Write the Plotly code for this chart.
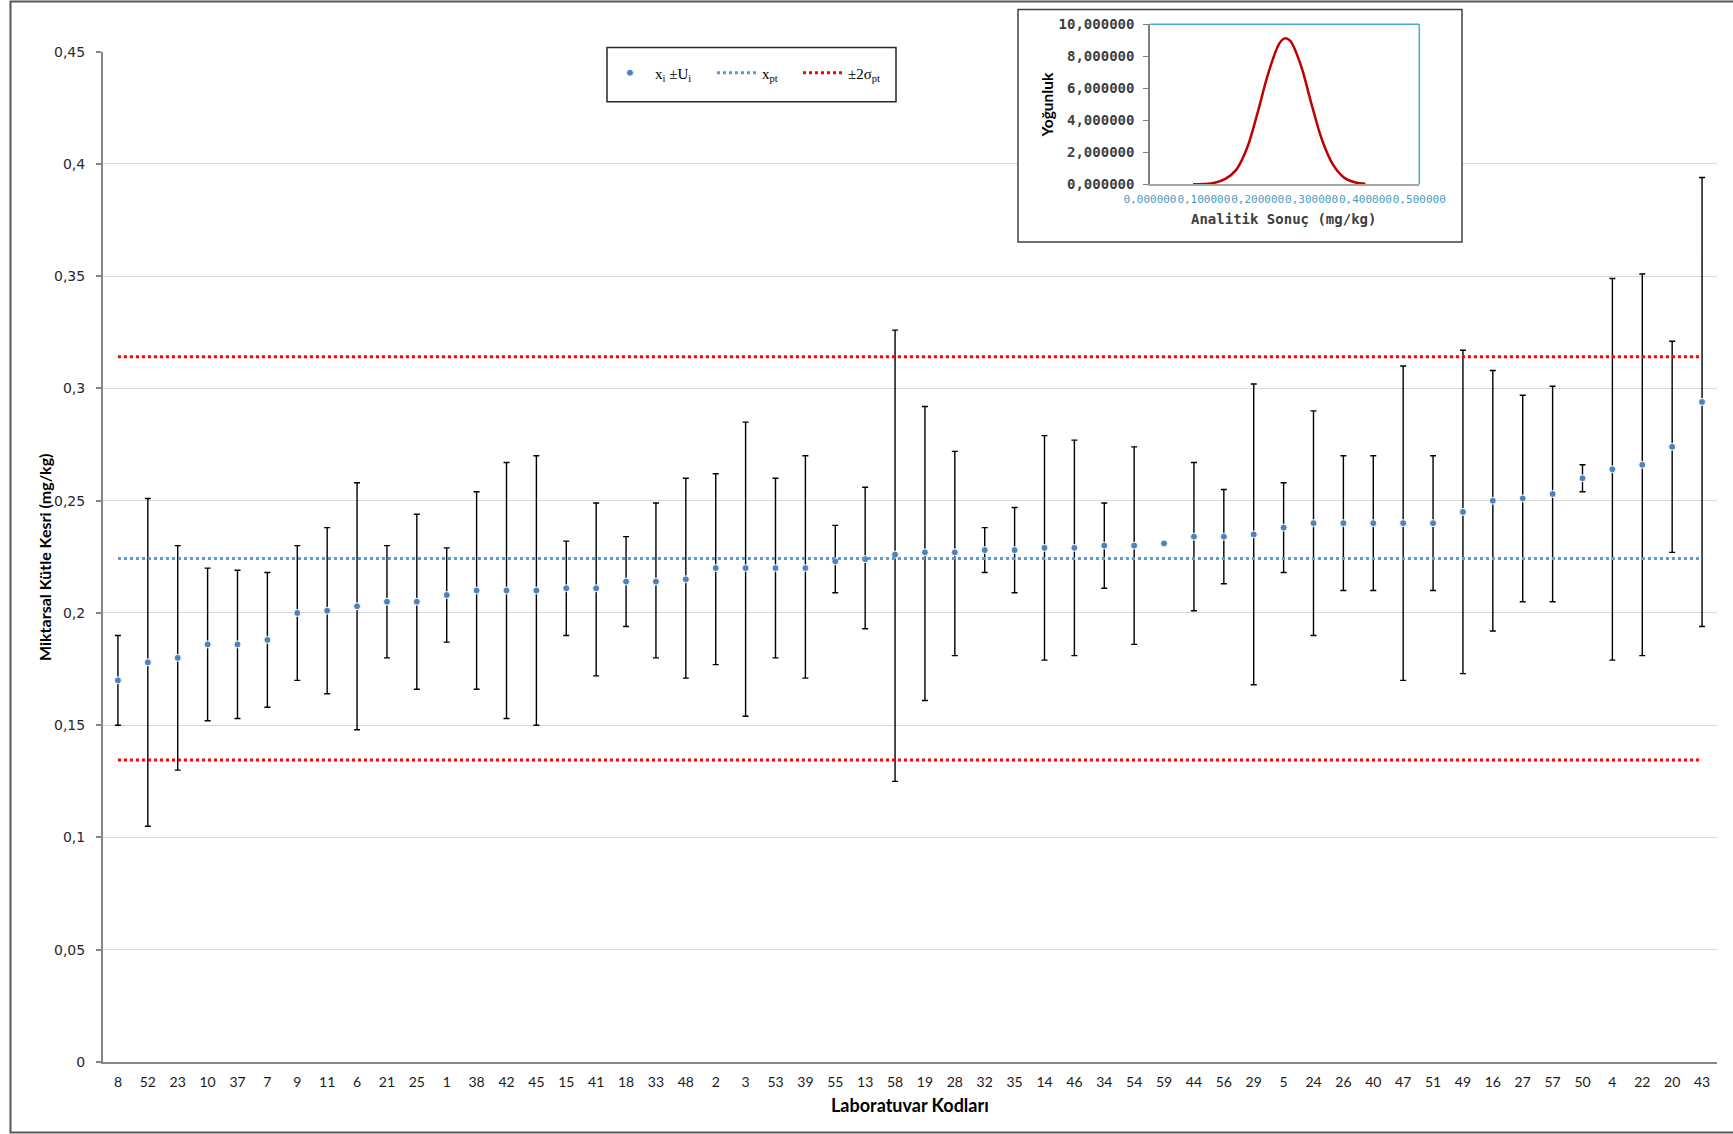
import numpy as np
import plotly.graph_objects as go

# Laboratory codes, ordered by reported result
lab_codes = ["8", "52", "23", "10", "37", "7", "9", "11", "6", "21", "25", "1", "38", "42", "45",
             "15", "41", "18", "33", "48", "2", "3", "53", "39", "55", "13", "58", "19", "28",
             "32", "35", "14", "46", "34", "54", "59", "44", "56", "29", "5", "24", "26", "40", "47",
             "51", "49", "16", "27", "57", "50", "4", "22", "20", "43"]

# Reported mass fractions x_i (mg/kg)
results = [0.170, 0.178, 0.180, 0.186, 0.186, 0.188, 0.200, 0.201, 0.203, 0.205, 0.205, 0.208, 0.210, 0.210, 0.210,
           0.211, 0.211, 0.214, 0.214, 0.215, 0.220, 0.220, 0.220, 0.220, 0.223, 0.224, 0.226, 0.227, 0.227,
           0.228, 0.228, 0.229, 0.229, 0.230, 0.230, 0.231, 0.234, 0.234, 0.235, 0.238, 0.240, 0.240, 0.240, 0.240,
           0.240, 0.245, 0.250, 0.251, 0.253, 0.260, 0.264, 0.266, 0.274, 0.294]

# x_i + U_i and x_i - U_i (lab 59 reported no uncertainty)
upper_bounds = [0.190, 0.251, 0.230, 0.220, 0.219, 0.218, 0.230, 0.238, 0.258, 0.230, 0.244, 0.229, 0.254, 0.267, 0.270,
                0.232, 0.249, 0.234, 0.249, 0.260, 0.262, 0.285, 0.260, 0.270, 0.239, 0.256, 0.326, 0.292, 0.272,
                0.238, 0.247, 0.279, 0.277, 0.249, 0.274, None, 0.267, 0.255, 0.302, 0.258, 0.290, 0.270, 0.270, 0.310,
                0.270, 0.317, 0.308, 0.297, 0.301, 0.266, 0.349, 0.351, 0.321, 0.394]
lower_bounds = [0.150, 0.105, 0.130, 0.152, 0.153, 0.158, 0.170, 0.164, 0.148, 0.180, 0.166, 0.187, 0.166, 0.153, 0.150,
                0.190, 0.172, 0.194, 0.180, 0.171, 0.177, 0.154, 0.180, 0.171, 0.209, 0.193, 0.125, 0.161, 0.181,
                0.218, 0.209, 0.179, 0.181, 0.211, 0.186, None, 0.201, 0.213, 0.168, 0.218, 0.190, 0.210, 0.210, 0.170,
                0.210, 0.173, 0.192, 0.205, 0.205, 0.254, 0.179, 0.181, 0.227, 0.194]

# Assigned value and standard deviation for proficiency assessment
x_pt = 0.2243
sigma_pt = 0.0449

# Main y-axis ticks
y_tick_values = [0, 0.05, 0.10, 0.15, 0.20, 0.25, 0.30, 0.35, 0.40, 0.45]
y_tick_labels = ["0", "0,05", "0,1", "0,15", "0,2", "0,25", "0,3", "0,35", "0,4", "0,45"]

# Inset: density of the analytical result
density_x = [0.08, 0.10, 0.12, 0.14, 0.16, 0.18, 0.20, 0.22, 0.24, 0.25, 0.26, 0.28, 0.30, 0.32, 0.34, 0.36, 0.38, 0.40]
density_y = [0.00, 0.02, 0.10, 0.34, 0.90, 2.25, 4.50, 6.98, 8.79, 9.12, 8.98, 7.44, 5.00, 2.72, 1.21, 0.43, 0.13, 0.03]
inset_x_ticks = [0, 0.1, 0.2, 0.3, 0.4, 0.5]
inset_x_labels = ["0,000000", "0,100000", "0,200000", "0,300000", "0,400000", "0,500000"]
inset_y_ticks = [0, 2, 4, 6, 8, 10]
inset_y_labels = ["0,000000", "2,000000", "4,000000", "6,000000", "8,000000", "10,000000"]

# ---- pixel layout helpers (plot area: x 103..1717, y 0..1062) ----
W, H = 1733, 1134
L, R, B = 103, 1717, 1062


def px(x):
    return (x - L) / (R - L)


def py(y):
    return (B - y) / B


vals = np.array(results, dtype=float)
hi = np.array(upper_bounds, dtype=float)
lo = np.array(lower_bounds, dtype=float)
err_plus = hi - vals
err_minus = vals - lo

fig = go.Figure()

fig.add_trace(go.Scatter(
    x=lab_codes, y=vals, mode="markers",
    name="x<sub>i</sub> ±U<sub>i</sub>", legendwidth=52,
    marker=dict(color="#4F81BD", size=7, line=dict(color="white", width=1)),
    error_y=dict(type="data", symmetric=False, array=err_plus, arrayminus=err_minus,
                 color="black", thickness=1.4, width=3),
    xaxis="x", yaxis="y",
))

fig.add_trace(go.Scatter(
    x=[lab_codes[0], lab_codes[-1]], y=[x_pt, x_pt], mode="lines",
    name="x<sub>pt</sub>", legendwidth=31,
    line=dict(color="#5B9BD5", width=3, dash="dot"),
    xaxis="x", yaxis="y",
))

fig.add_trace(go.Scatter(
    x=[lab_codes[0], lab_codes[-1], None, lab_codes[0], lab_codes[-1]],
    y=[x_pt + 2 * sigma_pt, x_pt + 2 * sigma_pt, None, x_pt - 2 * sigma_pt, x_pt - 2 * sigma_pt],
    mode="lines", connectgaps=False,
    name="±2σ<sub>pt</sub>", legendwidth=40,
    line=dict(color="#FF0000", width=3, dash="dot"),
    xaxis="x", yaxis="y",
))

# empty panel whose white background hides the grid behind the inset
fig.add_trace(go.Scatter(x=[], y=[], xaxis="x2", yaxis="y2", showlegend=False, hoverinfo="skip"))

fig.add_trace(go.Scatter(
    x=density_x, y=density_y, mode="lines", line=dict(color="#C00000", width=2.5, shape="spline"),
    showlegend=False, xaxis="x3", yaxis="y3", hoverinfo="skip",
))

main_top = py(51.7)

fig.update_layout(
    width=W, height=H,
    margin=dict(l=L, r=W - R, t=0, b=H - B, autoexpand=False),
    paper_bgcolor="white", plot_bgcolor="white",
    showlegend=True,
    legend=dict(orientation="h", x=px(605), xanchor="left", y=py(73), yanchor="middle",
                bgcolor="rgba(0,0,0,0)", borderwidth=0,
                font=dict(family="Liberation Serif", size=15, color="black"),
                itemwidth=40, tracegroupgap=0),
    xaxis=dict(domain=[0, 1], anchor="y", type="category", categoryorder="array", categoryarray=lab_codes,
               range=[-0.5, len(lab_codes) - 0.5], automargin=False,
               showline=True, linecolor="#868686", linewidth=2, ticks="", showgrid=False,
               tickangle=0, ticklabelstandoff=6,
               tickfont=dict(family="Lato", size=14, color="#1a1a1a")),
    yaxis=dict(domain=[0, main_top], anchor="x", range=[0, 0.45], automargin=False,
               tickvals=y_tick_values, ticktext=y_tick_labels,
               showline=True, linecolor="#868686", linewidth=2,
               ticks="outside", ticklen=5, tickcolor="#868686", tickwidth=1.5,
               showgrid=True, gridcolor="#D9D9D9", gridwidth=1, zeroline=False,
               ticklabelstandoff=8,
               tickfont=dict(family="DejaVu Sans", size=14, color="#262636")),
    xaxis2=dict(domain=[px(1018), px(1462)], anchor="y2", range=[0, 1], visible=False, automargin=False),
    yaxis2=dict(domain=[py(242), py(9.5)], anchor="x2", range=[0, 1], visible=False, automargin=False),
    xaxis3=dict(domain=[px(1150), px(1419.3)], anchor="y3", range=[0, 0.5], automargin=False,
                tickvals=inset_x_ticks, ticktext=inset_x_labels, tickangle=0,
                showline=True, linecolor="#A6A6A6", linewidth=1.5, ticks="", showgrid=False, zeroline=False,
                ticklabelstandoff=4,
                tickfont=dict(family="DejaVu Sans Mono", size=11, color="#4A9BC0")),
    yaxis3=dict(domain=[py(184.3), py(24.3)], anchor="x3", range=[0, 10], automargin=False,
                tickvals=inset_y_ticks, ticktext=inset_y_labels,
                showline=True, linecolor="#7F7F7F", linewidth=1.5, ticks="outside", ticklen=5,
                tickcolor="#7F7F7F", showgrid=False, zeroline=False, ticklabelstandoff=6,
                tickfont=dict(family="DejaVu Sans Mono", size=14, color="#404040", weight="bold")),
    shapes=[
        # outer frame
        dict(type="rect", xref="paper", yref="paper", x0=px(10.5), x1=px(1745), y0=py(1132.5), y1=py(1.5),
             line=dict(color="#595959", width=2), fillcolor="rgba(0,0,0,0)", layer="above"),
        # legend box
        dict(type="rect", xref="paper", yref="paper", x0=px(607), x1=px(896), y0=py(101.7), y1=py(47.5),
             line=dict(color="#262626", width=1.5), fillcolor="white", layer="above"),
        # inset frame
        dict(type="rect", xref="paper", yref="paper", x0=px(1018), x1=px(1462), y0=py(242), y1=py(9.5),
             line=dict(color="#404040", width=1.5), fillcolor="rgba(0,0,0,0)", layer="above"),
        # inset plot area top and right edges
        dict(type="line", xref="paper", yref="paper", x0=px(1150), x1=px(1419.3), y0=py(24.3), y1=py(24.3),
             line=dict(color="#4BACC6", width=1.5), layer="above"),
        dict(type="line", xref="paper", yref="paper", x0=px(1419.3), x1=px(1419.3), y0=py(184.3), y1=py(24.3),
             line=dict(color="#4BACC6", width=1.5), layer="above"),
    ],
    annotations=[
        dict(text="<b>Laboratuvar Kodları</b>", xref="paper", yref="paper", x=px(909.5), y=py(1105),
             xanchor="center", yanchor="middle", showarrow=False,
             font=dict(family="Lato", size=18, color="black")),
        dict(text="<b>Miktarsal Kütle Kesri (mg/kg)</b>", xref="paper", yref="paper", x=px(44), y=py(557),
             xanchor="center", yanchor="middle", showarrow=False, textangle=-90,
             font=dict(family="Lato", size=16, color="black")),
        dict(text="<b>Yoğunluk</b>", xref="paper", yref="paper", x=px(1046.5), y=py(105),
             xanchor="center", yanchor="middle", showarrow=False, textangle=-90,
             font=dict(family="Lato", size=15.5, color="black")),
        dict(text="<b>Analitik Sonuç (mg/kg)</b>", xref="paper", yref="paper", x=px(1283), y=py(219),
             xanchor="center", yanchor="middle", showarrow=False,
             font=dict(family="DejaVu Sans Mono", size=14, color="#404040")),
    ],
)

fig.write_html("out.html")
